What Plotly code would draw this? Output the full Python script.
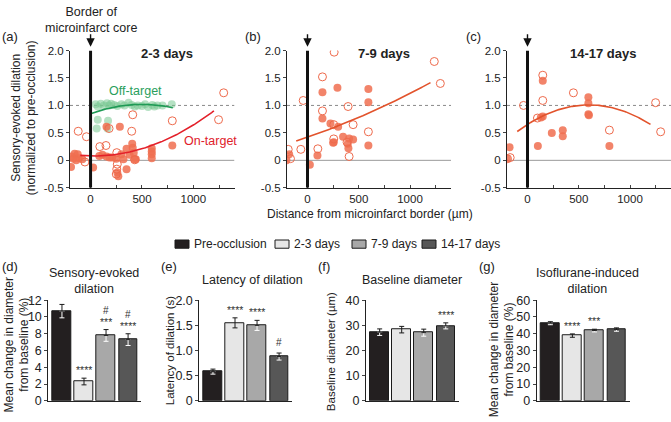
import numpy as np
import plotly.graph_objects as go

W, H = 671, 422
FONT = "Liberation Sans, Arial, Helvetica, sans-serif"
TXT = "#222222"

# ---------------- data: top scatter panels ----------------
a_on_filled_x = [-185, -170, -155, -125, -115, -140, -80, -190, 25, 85, 115, 155, 185, 155, 285,
                 210, 250, 320, 350, 350, 405, 410, 380, 420, 425, 440, 270, 260, 595, 595, 595,
                 595, 795, 300]
a_on_filled_y = [0.07, 0.03, 0.12, 0.11, 0.04, 0.00, 0.02, -0.12, -0.13, 0.08, 0.10, 0.07, 0.05, 0.61,
                 0.61, 0.05, 0.03, 0.02, 0.21, -0.16, 0.30, 0.23, 0.10, 0.14, 0.02, 0.02, -0.29, -0.22,
                 0.22, 0.16, 0.11, 0.04, 0.27, 0.11]
a_on_open_x = [-120, -40, -55, 90, 150, 180, 255, 260, 255, 250, 400, 410, 430, 795, 1245, 1295]
a_on_open_y = [0.53, 0.43, -0.03, 0.25, 0.27, 0.58, 0.14, -0.07, -0.16, -0.25, 0.53, 0.83, 0.01,
               0.72, 0.74, 1.23]
a_off_x = [50, 70, 100, 130, 160, 180, 200, 230, 260, 300, 330, 370, 400, 430, 460, 500, 530, 560,
           600, 620, 650, 700, 790, 70, 170, 60, 165]
a_off_y = [1.02, 0.98, 1.03, 1.00, 1.04, 1.00, 1.03, 1.01, 0.99, 1.02, 1.00, 1.05, 1.01, 0.98, 1.00,
           0.99, 1.02, 0.97, 1.01, 0.98, 1.00, 1.00, 1.02, 0.74, 0.72, 0.58, 0.58]

b_open_x = [-188, -166, -65, -42, 101, 146, 146, 260, 256, 256, 396, 445, 406, 594, 1237, 1296, 386]
b_open_y = [0.20, 0.03, 0.20, 1.09, 0.21, 1.52, 0.90, 1.97, 0.65, 0.39, 0.98, 0.65, 0.07, 0.52,
            1.80, 1.40, 0.33]
b_fill_x = [-205, -179, 23, 97, 146, 146, 224, 250, 256, 292, 299, 347, 393, 406, 399, 445, 594,
            594, 594]
b_fill_y = [0.00, 0.11, -0.08, 0.09, 1.24, 0.76, 0.67, 0.32, 0.33, 1.32, 0.61, 0.43, 0.30, 0.40,
            0.22, 0.38, 1.30, 1.06, 0.27]

c_open_x = [-195, -169, -39, 97, 149, 149, 448, 799, 1250, 1299]
c_open_y = [0.03, 0.05, 1.00, 0.77, 1.55, 1.09, 1.23, 0.55, 1.05, 0.52]
c_fill_x = [-201, -175, 101, 149, 149, 130, 237, 344, 344, 594, 594, 594, 599, 799]
c_fill_y = [0.03, 0.24, 0.26, 1.45, 0.80, 0.78, 0.50, 0.55, 0.44, 1.15, 1.04, 0.84, 0.82, 0.26]

# quadratic fit coefficients (c0, c1, c2) and x-span of each fitted curve
fit_a_on = [0.08, -4.2e-5, 6.05e-7]
fit_a_on_span = [-100, 1200]
fit_a_off = [0.85, 6.8e-4, -6.8e-7]
fit_a_off_span = [0, 800]
fit_b = [0.421, 6.395e-4, 1.575e-7]
fit_b_span = [-110, 1200]
fit_c = [0.654, 1.186e-3, -9.88e-7]
fit_c_span = [-100, 1200]

x_tick_vals = [0, 250, 500, 750, 1000, 1250]
x_tick_text = ["0", "", "500", "", "1000", ""]
y_tick_vals = [-0.5, 0, 0.5, 1.0, 1.5, 2.0]
y_tick_text = ["-0.5", "0", "0.5", "1.0", "1.5", "2.0"]
top_titles = ["2-3 days", "7-9 days", "14-17 days"]

# ---------------- data: bar panels ----------------
groups = ["Pre-occlusion", "2-3 days", "7-9 days", "14-17 days"]
d_mean = [10.7, 2.3, 7.8, 7.3]
d_err = [0.8, 0.4, 0.7, 0.7]
d_stars = ["", "****", "***", "****"]
d_hash = ["", "", "#", "#"]
e_mean = [0.58, 1.55, 1.50, 0.88]
e_err = [0.05, 0.10, 0.10, 0.07]
e_stars = ["", "****", "****", ""]
e_hash = ["", "", "", "#"]
f_mean = [27.3, 28.3, 27.1, 29.8]
f_err = [1.3, 1.3, 1.4, 1.2]
f_stars = ["", "", "", "****"]
f_hash = ["", "", "", ""]
g_mean = [46.3, 38.9, 41.9, 42.5]
g_err = [0.9, 1.0, 0.8, 1.0]
g_stars = ["", "****", "***", ""]
g_hash = ["", "", "", ""]

# ---------------- styles ----------------
ORANGE = "rgba(240,110,80,0.85)"
ORANGE_LINE = "#ee6a4c"
GREEN = "rgba(120,200,145,0.55)"
FIT_RED = "#e3202a"
FIT_GREEN = "#1f9a55"
FIT_ORANGE = "#e2532c"
bar_colors = ["#231f20", "#e6e6e6", "#a8a8a8", "#575757"]
dark_bar = [True, False, True, True]


def px(x):
    return x / W


def py(y):
    return 1 - y / H


def curve(coefs, span):
    xs = np.linspace(span[0], span[1], 120)
    ys = coefs[0] + coefs[1] * xs + coefs[2] * xs ** 2
    return xs, ys


def ann(x, y, text, size=12, xref="paper", yref="paper", xanchor="center", yanchor="middle",
        color=TXT, **kw):
    if xref == "paper":
        x = px(x)
    if yref == "paper":
        y = py(y)
    d = dict(xref=xref, yref=yref, x=x, y=y, text=text, showarrow=False, xanchor=xanchor,
             yanchor=yanchor, font=dict(size=size, color=color))
    d.update(kw)
    return d


fig = go.Figure()
layout = dict(width=W, height=H, margin=dict(l=0, r=0, t=0, b=0, pad=0), showlegend=False,
              plot_bgcolor="white", paper_bgcolor="white",
              font=dict(family=FONT, color=TXT, size=12))
annotations = []
shapes = []

# ---------- top panels ----------
top_dom_x = [(70, 234.5), (287, 451), (507, 671)]
top_y_dom = [py(187), py(45)]
for i, (x0, x1) in enumerate(top_dom_x):
    n = i + 1
    sx = "" if n == 1 else str(n)
    layout["xaxis" + sx] = dict(domain=[px(x0), px(x1)], range=[-200, 1400], anchor="y" + sx,
                                tickvals=x_tick_vals, ticktext=x_tick_text, ticks="inside", ticklen=3,
                                showline=True, linecolor="#222", linewidth=1, showgrid=False,
                                zeroline=False, tickfont=dict(size=11.5, color=TXT))
    layout["yaxis" + sx] = dict(domain=top_y_dom, range=[-0.5, 2.0], anchor="x" + sx,
                                tickvals=y_tick_vals, ticktext=y_tick_text, ticks="outside", ticklen=3,
                                showline=True, linecolor="#222", linewidth=1, showgrid=False,
                                zeroline=False, tickfont=dict(size=11.5, color=TXT))
    xr, yr = "x" + sx, "y" + sx
    shapes.append(dict(type="line", xref=xr, yref=yr, x0=-200, x1=1400, y0=1, y1=1,
                       line=dict(color="#8a8a8a", width=1, dash="3px,3px"), layer="below"))
    shapes.append(dict(type="line", xref=xr, yref=yr, x0=-200, x1=1400, y0=0, y1=0,
                       line=dict(color="#9a9a9a", width=1), layer="below"))
    shapes.append(dict(type="line", xref=xr, yref=yr, x0=0, x1=0, y0=-0.5, y1=2.0,
                       line=dict(color="#111", width=3)))
    annotations.append(dict(xref=xr, yref="paper", x=0, y=py(41), ax=0, ay=-14, text="",
                            showarrow=True, arrowhead=2, arrowsize=1.2, arrowwidth=1.4,
                            arrowcolor="#111"))
    annotations.append(ann(745, 48, "<b>%s</b>" % top_titles[i], size=13, xref=xr))

# panel (a) data
fig.add_trace(go.Scatter(x=a_off_x, y=a_off_y, mode="markers", xaxis="x", yaxis="y",
                         marker=dict(size=8, color=GREEN, line=dict(width=0))))
fig.add_trace(go.Scatter(x=a_on_filled_x, y=a_on_filled_y, mode="markers", xaxis="x", yaxis="y",
                         marker=dict(size=8, color=ORANGE, line=dict(width=0))))
fig.add_trace(go.Scatter(x=a_on_open_x, y=a_on_open_y, mode="markers", xaxis="x", yaxis="y",
                         marker=dict(size=8, symbol="circle-open", color=ORANGE_LINE,
                                     line=dict(width=1))))
xs, ys = curve(fit_a_off, fit_a_off_span)
fig.add_trace(go.Scatter(x=xs, y=ys, mode="lines", xaxis="x", yaxis="y",
                         line=dict(color=FIT_GREEN, width=1.6)))
xs, ys = curve(fit_a_on, fit_a_on_span)
fig.add_trace(go.Scatter(x=xs, y=ys, mode="lines", xaxis="x", yaxis="y",
                         line=dict(color=FIT_RED, width=1.6)))

# panel (b)
fig.add_trace(go.Scatter(x=b_fill_x, y=b_fill_y, mode="markers", xaxis="x2", yaxis="y2",
                         marker=dict(size=8, color=ORANGE, line=dict(width=0))))
fig.add_trace(go.Scatter(x=b_open_x, y=b_open_y, mode="markers", xaxis="x2", yaxis="y2",
                         marker=dict(size=8, symbol="circle-open", color=ORANGE_LINE,
                                     line=dict(width=1))))
xs, ys = curve(fit_b, fit_b_span)
fig.add_trace(go.Scatter(x=xs, y=ys, mode="lines", xaxis="x2", yaxis="y2",
                         line=dict(color=FIT_ORANGE, width=1.6)))

# panel (c)
fig.add_trace(go.Scatter(x=c_fill_x, y=c_fill_y, mode="markers", xaxis="x3", yaxis="y3",
                         marker=dict(size=8, color=ORANGE, line=dict(width=0))))
fig.add_trace(go.Scatter(x=c_open_x, y=c_open_y, mode="markers", xaxis="x3", yaxis="y3",
                         marker=dict(size=8, symbol="circle-open", color=ORANGE_LINE,
                                     line=dict(width=1))))
xs, ys = curve(fit_c, fit_c_span)
fig.add_trace(go.Scatter(x=xs, y=ys, mode="lines", xaxis="x3", yaxis="y3",
                         line=dict(color=FIT_ORANGE, width=1.6)))

# top labels
annotations += [
    ann(0, 31, "(a)", size=13, xanchor="left"),
    ann(243, 31, "(b)", size=13, xanchor="left"),
    ann(464, 31, "(c)", size=13, xanchor="left"),
    ann(91, 13.5, "Border of<br>microinfarct core", size=12.5),
    ann(24, 115, "Sensory-evoked dilation<br>(normalized to pre-occlusion)", size=12, textangle=-90),
    ann(370, 214, "Distance from microinfarct border (µm)", size=12),
    ann(433, 1.27, "Off-target", size=12.5, xref="x", yref="y", color="#2a9e5c"),
    ann(1165, 0.36, "On-target", size=12.5, xref="x", yref="y", color="#e0202a"),
]

# ---------- bar panels ----------
bar_dom_x = [48.3, 199.3, 366, 536.7]
bar_span = 93.0
bar_y_dom = [py(407.3), py(303.3)]
bar_data = [
    (d_mean, d_err, d_stars, d_hash, [0, 12], [0, 2, 4, 6, 8, 10, 12], None),
    (e_mean, e_err, e_stars, e_hash, [0, 2.0], [0, 0.5, 1.0, 1.5, 2.0], ["0", "0.5", "1.0", "1.5", "2.0"]),
    (f_mean, f_err, f_stars, f_hash, [0, 40], [0, 10, 20, 30, 40], None),
    (g_mean, g_err, g_stars, g_hash, [0, 60], [0, 10, 20, 30, 40, 50, 60], None),
]
cats = [0, 1, 2, 3]
for k, (mean, err, stars, hashes, yr_, yt, ytt) in enumerate(bar_data):
    n = k + 4
    sx = str(n)
    x0 = bar_dom_x[k]
    layout["xaxis" + sx] = dict(domain=[px(x0), px(x0 + bar_span)], range=[-0.62, 3.6],
                                anchor="y" + sx, showticklabels=False, ticks="", showline=True,
                                linecolor="#222", linewidth=1, showgrid=False, zeroline=False)
    ydict = dict(domain=bar_y_dom, range=yr_, anchor="x" + sx, tickvals=yt, ticks="outside",
                 ticklen=3, showline=True, linecolor="#222", linewidth=1, showgrid=False,
                 zeroline=False, tickfont=dict(size=12.5, color=TXT))
    if ytt:
        ydict["ticktext"] = ytt
    layout["yaxis" + sx] = ydict
    for gi in range(4):
        fig.add_trace(go.Bar(x=[cats[gi]], y=[mean[gi]], width=0.84, xaxis="x" + sx, yaxis="y" + sx,
                             marker=dict(color=bar_colors[gi], line=dict(color="#1a1a1a", width=1)),
                             name=groups[gi]))
    # white lower half of error bars inside dark bars
    dx = [cats[i] for i in range(4) if dark_bar[i]]
    dy = [mean[i] for i in range(4) if dark_bar[i]]
    de = [err[i] for i in range(4) if dark_bar[i]]
    fig.add_trace(go.Scatter(x=dx, y=dy, mode="markers", xaxis="x" + sx, yaxis="y" + sx,
                             marker=dict(size=1, color="rgba(0,0,0,0)"),
                             error_y=dict(type="data", array=[0] * len(de), arrayminus=de,
                                          color="white", thickness=1, width=2.5)))
    fig.add_trace(go.Scatter(x=cats, y=mean, mode="markers", xaxis="x" + sx, yaxis="y" + sx,
                             marker=dict(size=1, color="rgba(0,0,0,0)"),
                             error_y=dict(type="data", array=err,
                                          arrayminus=[0 if dark_bar[i] else err[i] for i in range(4)],
                                          color="#1a1a1a", thickness=1, width=2.5)))
    for gi in range(4):
        top = mean[gi] + err[gi]
        if stars[gi]:
            annotations.append(ann(cats[gi], top, stars[gi], size=10.5, xref="x" + sx, yref="y" + sx,
                                   yanchor="bottom", color="#333"))
        if hashes[gi]:
            annotations.append(ann(cats[gi], top, hashes[gi], size=10, xref="x" + sx, yref="y" + sx,
                                   yanchor="bottom", color="#333",
                                   yshift=12 if stars[gi] else 3))

# bar panel labels and titles
annotations += [
    ann(0, 268, "(d)", size=13, xanchor="left"),
    ann(159, 268, "(e)", size=13, xanchor="left"),
    ann(316, 268, "(f)", size=13, xanchor="left"),
    ann(477, 268, "(g)", size=13, xanchor="left"),
    ann(94, 283, "Sensory-evoked<br>dilation", size=12.5),
    ann(253, 282, "Latency of dilation", size=12.5),
    ann(412, 282, "Baseline diameter", size=12.5),
    ann(587, 283, "Isoflurane-induced<br>dilation", size=12.5),
    ann(17, 350, "Mean change in diameter<br>from baseline (%)", size=12, textangle=-90),
    ann(170, 356, "Latency of dilation (s)", size=11.5, textangle=-90),
    ann(331, 357, "Baseline diameter (µm)", size=11.5, textangle=-90),
    ann(502, 354, "Mean change in diameter<br>from baseline (%)", size=12, textangle=-90),
]

# manual legend
leg_box_x = [175, 275, 352, 422]
for gi in range(4):
    bx = leg_box_x[gi]
    shapes.append(dict(type="rect", xref="paper", yref="paper", x0=px(bx), x1=px(bx + 14),
                       y0=py(249.5), y1=py(241), fillcolor=bar_colors[gi],
                       line=dict(color="#1a1a1a", width=1)))
    annotations.append(ann(bx + 17, 245.5, groups[gi], size=12, xanchor="left"))

layout["annotations"] = annotations
layout["shapes"] = shapes
layout["bargap"] = 0
fig.update_layout(**layout)
fig.write_html("out.html", config={"displayModeBar": False},
               post_script="document.body.style.margin='0';document.body.style.overflow='hidden';")
